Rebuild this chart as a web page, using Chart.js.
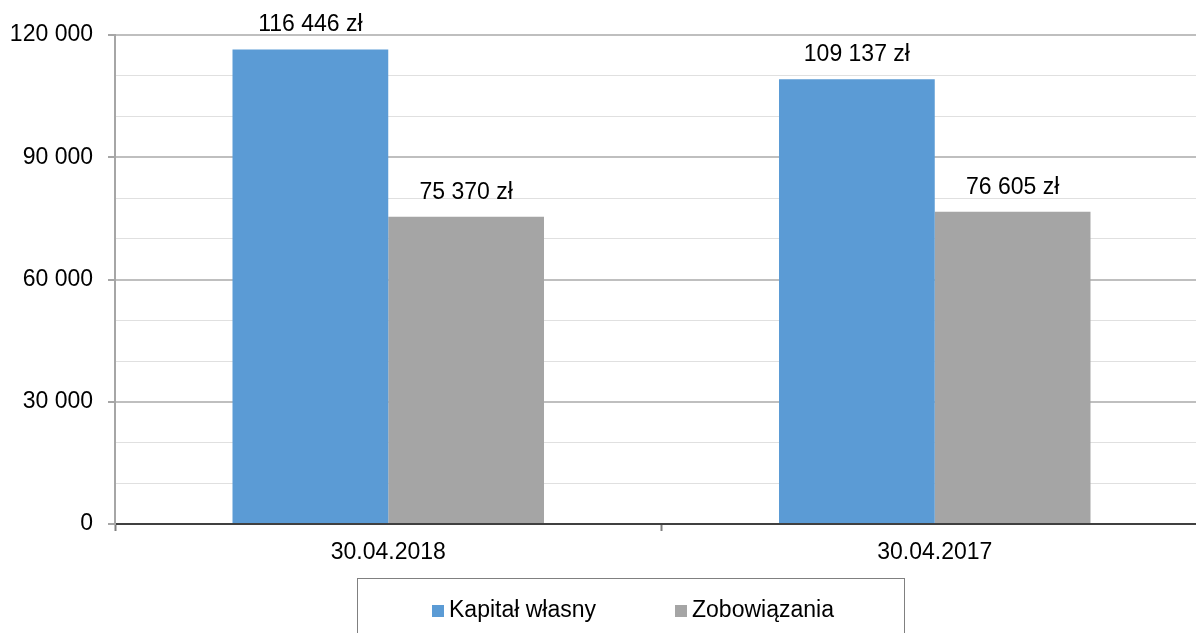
<!DOCTYPE html>
<html>
<head>
<meta charset="utf-8">
<script src="https://cdn.jsdelivr.net/npm/chart.js@4"></script>
<style>
  body { margin: 0; overflow: hidden; background: #fff; }
  #wrap { position: relative; width: 1208px; height: 633px; }
  #legend {
    position: absolute; left: 357px; top: 578px; width: 548px; height: 80px;
    border: 1px solid #808080; box-sizing: border-box;
    font: 23px "Liberation Sans", Arial, sans-serif; color: #000;
  }
  .item { position: absolute; top: 16px; height: 28px; line-height: 28px; white-space: nowrap; }
  .sw { display: inline-block; width: 12px; height: 12px; margin-right: 5px; vertical-align: 0px; }
</style>
</head>
<body>
<div id="wrap">
  <canvas id="chart" width="1208" height="633"></canvas>
  <div id="legend"></div>
</div>
<script>
// dane z wykresu
const categories = ['30.04.2018', '30.04.2017'];
const kapital = [116446, 109137];
const zobowiazania = [75370, 76605];
const seriesNames = ['Kapitał własny', 'Zobowiązania'];
const seriesColors = ['#5b9bd5', '#a5a5a5'];
const yTicks = [0, 30000, 60000, 90000, 120000];

const font = '"Liberation Sans", Arial, sans-serif';
const fontSize = 23;

function fmt(v) {
  return String(v).replace(/\B(?=(\d{3})+(?!\d))/g, ' ');
}

const barLabels = {
  id: 'barLabels',
  afterDatasetsDraw(chart) {
    const ctx = chart.ctx;
    ctx.save();
    ctx.font = fontSize + 'px ' + font;
    ctx.fillStyle = '#000';
    ctx.textAlign = 'center';
    ctx.textBaseline = 'alphabetic';
    chart.data.datasets.forEach((ds, i) => {
      chart.getDatasetMeta(i).data.forEach((bar, j) => {
        ctx.fillText(fmt(ds.data[j]) + ' zł', bar.x, bar.y - 18);
      });
    });
    ctx.restore();
  }
};

const ctx = document.getElementById('chart').getContext('2d');
const chart = new Chart(ctx, {
  type: 'bar',
  data: {
    labels: categories,
    datasets: [{
      label: seriesNames[0],
      data: kapital,
      backgroundColor: seriesColors[0]
    }, {
      label: seriesNames[1],
      data: zobowiazania,
      backgroundColor: seriesColors[1]
    }]
  },
  options: {
    responsive: false,
    animation: false,
    layout: { padding: { top: 35, right: 0, bottom: 0, left: 0 } },
    datasets: {
      bar: { categoryPercentage: 0.57, barPercentage: 1 }
    },
    plugins: {
      legend: { display: false },
      tooltip: { enabled: false }
    },
    scales: {
      x: {
        afterFit: s => { s.height = 109; },
        grid: {
          drawOnChartArea: false,
          drawTicks: true,
          tickLength: 7,
          tickColor: '#7f7f7f',
          tickWidth: 2
        },
        border: { color: '#404040', width: 2 },
        ticks: {
          color: '#000',
          padding: 8,
          font: { size: fontSize, family: font }
        }
      },
      y: {
        min: 0,
        max: 120000,
        afterFit: s => { s.width = 115; },
        ticks: {
          stepSize: 10000,
          color: '#000',
          padding: 15,
          font: { size: fontSize, family: font },
          callback: v => yTicks.includes(v) ? fmt(v) : ''
        },
        grid: {
          color: c => c.tick.value === 0 ? 'rgba(0,0,0,0)' : (c.tick.value % 30000 === 0 ? '#bfbfbf' : '#e0e0e0'),
          lineWidth: c => c.tick.value % 30000 === 0 ? 2 : 1,
          tickLength: 7,
          tickColor: c => c.tick.value % 30000 === 0 ? '#a6a6a6' : 'rgba(0,0,0,0)',
          tickWidth: 2
        },
        border: { color: '#a6a6a6', width: 2 }
      }
    }
  },
  plugins: [barLabels]
});

// legenda w ramce
const legend = document.getElementById('legend');
const legendX = [74, 317];
seriesNames.forEach((name, i) => {
  const item = document.createElement('div');
  item.className = 'item';
  item.style.left = legendX[i] + 'px';
  item.innerHTML = '<span class="sw" style="background:' + seriesColors[i] + '"></span>' + name;
  legend.appendChild(item);
});
</script>
</body>
</html>
